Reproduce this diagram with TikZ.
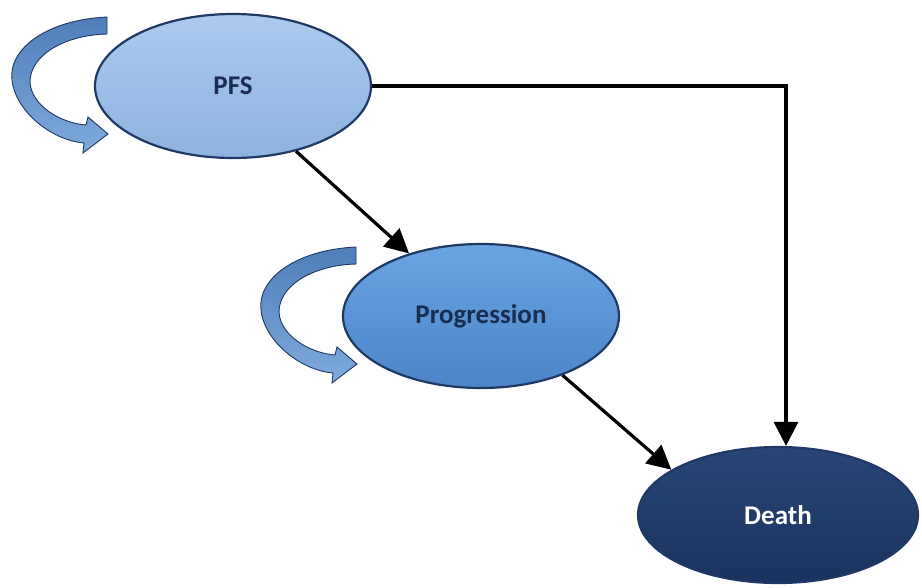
\documentclass[tikz,border=0pt]{standalone}
\usepackage{fontspec}
\setmainfont{Carlito}
\usepackage{tikz}
\usetikzlibrary{arrows.meta,shapes.geometric}
\definecolor{navy}{HTML}{1F3864}
\definecolor{pfstop}{HTML}{ABCBEE}
\definecolor{pfsbot}{HTML}{8CB2DE}
\definecolor{progtop}{HTML}{6AA4E2}
\definecolor{progbot}{HTML}{4C84C8}
\definecolor{deathtop}{HTML}{274676}
\definecolor{deathbot}{HTML}{1A335E}
\definecolor{looptop}{HTML}{4F7DB8}
\definecolor{loopbot}{HTML}{7FAADD}

\begin{document}
\begin{tikzpicture}[x=1pt,y=-1pt,
		state/.style={ellipse, draw=navy, line width=2.2pt, minimum width=276pt, minimum height=144pt, inner sep=0pt, font=\fontsize{27}{30}\selectfont\bfseries},
		trans/.style={line width=3.2pt, -{Triangle[length=24pt,width=24pt]}}]
		\useasboundingbox (0,0) rectangle (922,587);
		\def\loopband{ (107,17) .. controls (45,20) and (8,50) .. (12,80) .. controls (15,110) and (50,140) .. (84,143) -- (83,153) -- (108,134) -- (88,117) -- (86,125) .. controls (60,123) and (31,105) .. (30,82) .. controls (30,55) and (65,35) .. (107,34) -- cycle};
		\shade[top color=looptop, bottom color=loopbot, draw=navy, line width=0.9pt] \loopband;
		\begin{scope}[shift={(249,230)}]
			\shade[top color=looptop, bottom color=loopbot, draw=navy, line width=0.9pt] \loopband;
		\end{scope}
		\node[state, top color=pfstop, bottom color=pfsbot, text=navy!80!black] (pfs) at (233,86) {PFS};
		\node[state, top color=progtop, bottom color=progbot, text=navy!80!black] (prog) at (481,316) {Progression};
		\node[state, minimum width=280pt, minimum height=136pt, top color=deathtop, bottom color=deathbot, text=white] (death) at (778,515) {Death};
		\draw[trans] (pfs.east) -| ([xshift=8pt]death.north);
		\draw[trans] (pfs.-46) -- (prog.139);
		\draw[trans] (prog.-36) -- (death.157);
	\end{tikzpicture}
\end{document}
